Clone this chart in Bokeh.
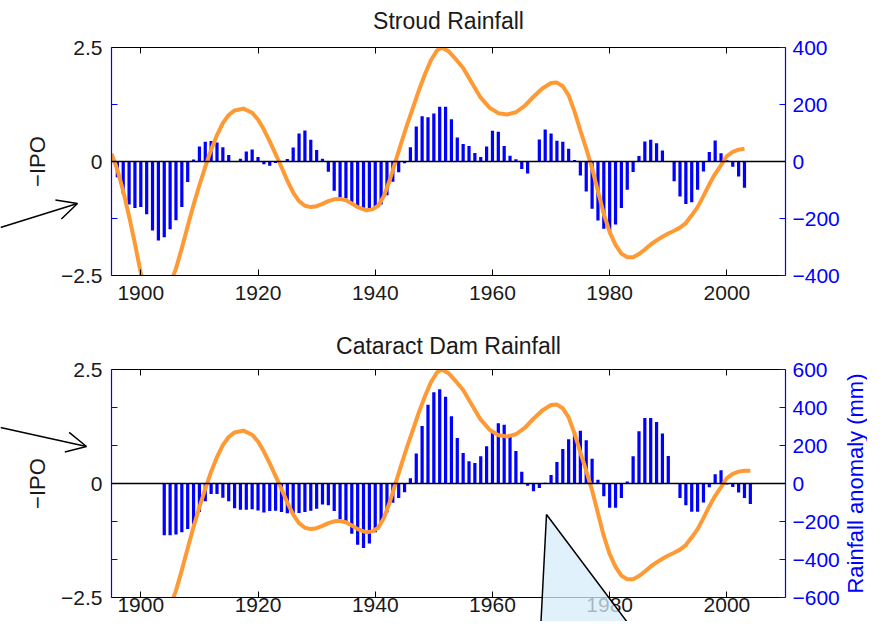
import math
from bokeh.plotting import figure
from bokeh.models import (Range1d, LinearAxis, FixedTicker, CustomJSTickFormatter,
                          Span, Arrow, OpenHead, PolyAnnotation, Label, Plot)
from bokeh.layouts import column
from bokeh.embed import file_html
from bokeh.resources import INLINE

# ---------------- data ----------------
stroud_years = list(range(1896, 2004))
stroud_rain = [-55, -113, -151, -163, -160, -185, -242, -277, -266, -238,
               -206, -160, -72, 7, 53, 69, 72, 67, 50, 23,
               0, 10, 35, 42, 16, -10, -15, -5, 2, 9,
               49, 98, 109, 76, 40, 10, -36, -103, -127, -130,
               -142, -156, -170, -168, -158, -151, -118, -71, -38, -6,
               50, 123, 159, 155, 168, 192, 192, 148, 84, 61,
               54, 30, 16, 53, 108, 104, 54, 20, 8, -26,
               -42, 0, 77, 112, 98, 73, 69, 45, 5, -49,
               -105, -166, -207, -236, -248, -221, -163, -99, -37, 19,
               70, 76, 64, 39, 0, -69, -123, -149, -143, -99,
               -35, 33, 74, 29, 4, -18, -53, -92]

cataract_years = list(range(1904, 2005))
cataract_rain = [-273, -273, -268, -256, -239, -213, -150, -93, -55, -55,
                 -75, -93, -130, -138, -138, -136, -142, -152, -145, -144,
                 -150, -157, -160, -155, -150, -143, -133, -110, -115, -145,
                 -187, -204, -264, -322, -340, -316, -256, -204, -153, -101,
                 -76, -46, 27, 158, 302, 414, 480, 496, 457, 354,
                 239, 160, 117, 108, 143, 196, 275, 317, 309, 250,
                 171, 62, -12, -41, -24, 4, 45, 113, 182, 233,
                 268, 278, 228, 130, 20, -67, -127, -127, -76, 10,
                 143, 275, 345, 345, 324, 263, 145, 0, -76, -114,
                 -149, -149, -100, -20, 49, 70, -5, -18, -48, -76,
                 -108]

ipo_years = [1895, 1896, 1897, 1898, 1899, 1900, 1901, 1902, 1903, 1904,
             1905, 1906, 1907, 1908, 1909, 1910, 1911, 1912, 1913, 1914,
             1915, 1916, 1917.5, 1919,
             1920, 1921, 1922, 1923, 1924, 1925, 1926, 1927, 1928, 1929,
             1930, 1931, 1932, 1933, 1934, 1935, 1936, 1937,
             1938.5, 1939.5, 1940.5, 1941.5, 1942.5, 1943.5, 1944.5, 1945.5,
             1946.5, 1947.5, 1948.5, 1949.5, 1950.5, 1951.3,
             1952.5, 1953.5, 1955, 1956.5, 1958, 1959.5, 1961, 1962.5, 1964,
             1965.5, 1967, 1968.5,
             1970, 1971, 1972, 1973, 1974, 1975, 1976, 1977, 1978, 1979,
             1980, 1981, 1982, 1983, 1984, 1985, 1986, 1987, 1988, 1989,
             1990, 1991, 1992, 1993, 1994, 1995, 1996, 1997, 1998, 1999,
             2000, 2001, 2002, 2003, 2004]
ipo_neg = [0.17, -0.18, -0.65, -1.2, -1.8, -2.45, -2.8, -3.0, -3.05, -2.95,
           -2.7, -2.35, -1.9, -1.42, -0.95, -0.52, -0.12, 0.26, 0.58, 0.84,
           1.02, 1.12, 1.16, 1.07,
           0.92, 0.70, 0.44, 0.16, -0.12, -0.42, -0.68, -0.87, -0.97, -1.0,
           -0.98, -0.93, -0.87, -0.83, -0.82, -0.85, -0.92, -1.0,
           -1.07, -1.05, -0.97, -0.75, -0.40, 0.02, 0.43, 0.83,
           1.2, 1.58, 1.92, 2.22, 2.43, 2.5,
           2.42, 2.28, 2.05, 1.72, 1.40, 1.18, 1.06, 1.03, 1.08,
           1.22, 1.42, 1.60,
           1.72, 1.73, 1.65, 1.45, 1.10, 0.68, 0.28, -0.15, -0.65, -1.15,
           -1.55, -1.83, -2.02, -2.10, -2.10, -2.03, -1.93, -1.82, -1.73, -1.65,
           -1.58, -1.52, -1.45, -1.35, -1.18, -1.0, -0.76, -0.5, -0.27, -0.08,
           0.12, 0.21, 0.26, 0.28, 0.28]

x_ticks = [1900, 1920, 1940, 1960, 1980, 2000]
ipo_ticks = [-2.5, 0, 2.5]
stroud_ticks = [-400, -200, 0, 200, 400]
cataract_ticks = [-600, -400, -200, 0, 200, 400, 600]

titles = ["Stroud Rainfall", "Cataract Dam Rainfall"]
right_label_text = "Rainfall anomaly (mm)"

# overlay annotation positions (page pixel coordinates, y downwards)
title_pos = [(448, 20), (448, 345)]
arrow_top = (0, 227, 77, 203)
arrow_bottom = (0, 427, 86, 446)
callout_xs = [546, 539, 648]
callout_ys = [514, 650, 650]
right_label_pos = (855, 483)

FONT = "Liberation Sans"
FS = "21px"
FS_TITLE = "23px"
FS_LABEL = "22px"
TXT = "#1a1a1a"
BLUE = "#0000ff"
ORANGE = "#ff9933"
W = 867
H_TOP = 320
H_BOT = 301


def minus_fmt():
    return CustomJSTickFormatter(
        code="return tick < 0 ? '\u2212' + String(Math.abs(tick)) : String(tick);")


def panel(years, rain, rain_ticks, cx, cy, height, btop, bbot, xlab_standoff):
    lim = max(rain_ticks)
    p = figure(width=W, height=height, x_range=Range1d(1895, 2010),
               y_range=Range1d(-2.5, 2.5), output_backend="svg",
               toolbar_location=None, x_axis_location=None, y_axis_location=None,
               min_border_left=111, min_border_right=82,
               min_border_top=btop, min_border_bottom=bbot)
    p.title = None
    p.xgrid.visible = False
    p.ygrid.visible = False
    p.outline_line_color = None
    p.background_fill_color = "white"
    p.border_fill_color = "white"
    p.extra_y_ranges = {"rain": Range1d(-lim, lim)}

    p.vbar(x=years, top=rain, bottom=0, width=0.55, y_range_name="rain",
           fill_color=BLUE, line_color=None)
    p.line(cx, cy, line_color=ORANGE, line_width=4, line_join="round")
    p.add_layout(Span(location=0, dimension="width", line_color="black",
                      line_width=1.3))

    minor = [t * 2.5 / lim for t in rain_ticks if t not in (-lim, 0, lim)]
    left = LinearAxis(ticker=FixedTicker(ticks=ipo_ticks, minor_ticks=minor),
                      formatter=minus_fmt(),
                      axis_line_color=BLUE, axis_line_width=1.2,
                      major_tick_line_color="black", major_tick_in=6, major_tick_out=0,
                      minor_tick_line_color=BLUE, minor_tick_in=6, minor_tick_out=0,
                      major_label_text_font=FONT, major_label_text_font_size=FS,
                      major_label_text_color=TXT, major_label_standoff=9,
                      axis_label="\u2212IPO", axis_label_text_font=FONT,
                      axis_label_text_font_size=FS_LABEL, axis_label_text_font_style="normal",
                      axis_label_text_color=TXT, axis_label_standoff=8)
    p.add_layout(left, "left")

    right = LinearAxis(y_range_name="rain", ticker=FixedTicker(ticks=rain_ticks),
                       formatter=minus_fmt(),
                       axis_line_color=BLUE, axis_line_width=1.2,
                       major_tick_line_color=BLUE, major_tick_in=6, major_tick_out=0,
                       minor_tick_line_color=None,
                       major_label_text_font=FONT, major_label_text_font_size=FS,
                       major_label_text_color=BLUE, major_label_standoff=7)
    p.add_layout(right, "right")

    top = LinearAxis(ticker=FixedTicker(ticks=x_ticks),
                     formatter=CustomJSTickFormatter(code="return '';"),
                     axis_line_color="black", major_tick_line_color="black",
                     major_tick_in=6, major_tick_out=0, minor_tick_line_color=None,
                     major_label_text_font_size="0px", major_label_standoff=0)
    p.add_layout(top, "above")

    bottom = LinearAxis(ticker=FixedTicker(ticks=x_ticks),
                        axis_line_color="black", major_tick_line_color="black",
                        major_tick_in=6, major_tick_out=0, minor_tick_line_color=None,
                        major_label_text_font=FONT, major_label_text_font_size=FS,
                        major_label_text_color=TXT, major_label_standoff=xlab_standoff)
    p.add_layout(bottom, "below")
    return p


top_cx = [x for x in ipo_years if x <= 2003]
top_cy = [v for x, v in zip(ipo_years, ipo_neg) if x <= 2003]
bot_cx = [x for x in ipo_years if x >= 1904]
bot_cy = [v for x, v in zip(ipo_years, ipo_neg) if x >= 1904]

p1 = panel(stroud_years, stroud_rain, stroud_ticks, top_cx, top_cy, H_TOP, 47, 45, 10)
p2 = panel(cataract_years, cataract_rain, cataract_ticks, bot_cx, bot_cy, H_BOT, 49, 24, 0)

# transparent overlay covering both panels (pixel coordinates, y downwards)
H_ALL = H_TOP + H_BOT
ov = figure(width=W, height=H_ALL, x_range=Range1d(0, W), y_range=Range1d(H_ALL, 0),
            output_backend="svg", toolbar_location=None,
            x_axis_location=None, y_axis_location=None,
            min_border=0, min_border_left=0, min_border_right=0,
            min_border_top=0, min_border_bottom=0)
ov.title = None
ov.xgrid.visible = False
ov.ygrid.visible = False
ov.outline_line_color = None
ov.background_fill_color = None
ov.border_fill_color = None
if "frame_align" in Plot.properties():
    ov.frame_align = False
ov.margin = (-H_ALL, 0, 0, 0)

for t, (tx, ty) in zip(titles, title_pos):
    ov.add_layout(Label(x=tx, y=ty, text=t, text_align="center", text_baseline="middle",
                        text_font=FONT, text_font_size=FS_TITLE, text_color=TXT))
for (x0, y0, x1, y1) in (arrow_top, arrow_bottom):
    ov.add_layout(Arrow(end=OpenHead(size=20, line_width=1.5, line_color="black"),
                        x_start=x0, y_start=y0, x_end=x1, y_end=y1,
                        line_width=1.5, line_color="black"))
ov.add_layout(PolyAnnotation(xs=callout_xs, ys=callout_ys,
                             fill_color="#d6ecfb", fill_alpha=0.75,
                             line_color="black", line_alpha=1.0, line_width=1.5))
ov.add_layout(Label(x=right_label_pos[0], y=right_label_pos[1], text=right_label_text,
                    angle=math.pi / 2, text_align="center", text_baseline="middle",
                    text_font=FONT, text_font_size=FS_LABEL, text_color=BLUE))

layout = column(column(p1, p2, spacing=0), ov, spacing=0)
open("out.html", "w").write(file_html(layout, INLINE))
